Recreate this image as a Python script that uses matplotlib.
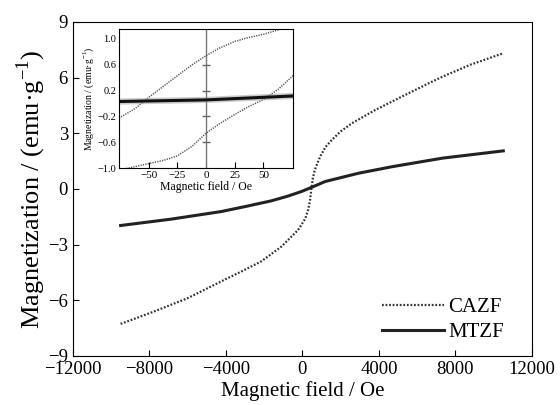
import numpy as np
import matplotlib
matplotlib.use("Agg")
import matplotlib.pyplot as plt

plt.rcParams['font.family'] = ['Liberation Serif', 'DejaVu Serif']
plt.rcParams['mathtext.fontset'] = 'custom'
plt.rcParams['mathtext.rm'] = 'Liberation Serif'

# main plot, full field sweep
cazf_h = [-9500, -7770, -6010, -4260, -3195, -2160, -1100, -225, 150, 300,
          400, 475, 550, 650, 925, 1200, 1540, 2000, 2590, 3820, 5210, 6620,
          7330, 8800, 10500]
cazf_m = [-7.27, -6.61, -5.89, -4.99, -4.45, -3.91, -3.11, -2.21, -1.6, -1.13,
          -0.6, 0.04, 0.6, 1.03, 1.74, 2.25, 2.64, 3.1, 3.54, 4.26, 4.98, 5.70,
          6.05, 6.70, 7.31]
mtzf_h = [-9500, -6880, -4250, -2900, -1620, -800, -50, 580, 1190, 2950,
          4700, 7330, 10500]
mtzf_m = [-1.97, -1.63, -1.22, -0.93, -0.64, -0.40, -0.14, 0.13, 0.40, 0.85,
          1.20, 1.66, 2.05]

# inset, low field loop
loop_up_h = [-76, -62, -50, -37, -25, -12, 0, 12, 25, 37, 50, 66, 76]
loop_up_m = [-0.225, -0.08, 0.095, 0.27, 0.43, 0.6, 0.74, 0.86, 0.96, 1.02,
             1.07, 1.155, 1.2]
loop_dn_h = [-76, -67.8, -60, -50, -37, -25, -12, 0, 12, 25, 37, 50, 63, 76]
loop_dn_m = [-1.03, -1.0, -0.97, -0.93, -0.88, -0.81, -0.66, -0.46, -0.31,
             -0.17, -0.05, 0.06, 0.22, 0.43]
mt_in_h = [-76, 0, 76]
mt_in_m = [0.03, 0.055, 0.116]

xticks = [-12000, -8000, -4000, 0, 4000, 8000, 12000]
yticks = [-9, -6, -3, 0, 3, 6, 9]
in_xticks = [-50, -25, 0, 25, 50]
in_yticks = [-1.0, -0.6, -0.2, 0.2, 0.6, 1.0]

fig = plt.figure(figsize=(5.6, 4.05), dpi=100)
ax = fig.add_axes([0.13, 0.121, 0.82, 0.825])

ax.plot(cazf_h, cazf_m, color='#333333', lw=1.6, linestyle=(0, (0.8, 0.8)),
        label='CAZF')
ax.plot(mtzf_h, mtzf_m, color='#222222', lw=2.2, label='MTZF')

ax.set_xlim(-12000, 12000)
ax.set_ylim(-9, 9)
ax.set_xticks(xticks)
ax.set_yticks(yticks)
ax.tick_params(direction='in', labelsize=13.5, length=4, top=False, right=False)
ax.set_xlabel('Magnetic field / Oe', fontsize=15, labelpad=2)
ax.set_ylabel('Magnetization / (emu·g$^{-1}$)', fontsize=19, labelpad=0)
ax.legend(loc='lower right', frameon=False, fontsize=15, handlelength=3.0,
          handletextpad=0.2, labelspacing=0.25, bbox_to_anchor=(0.98, -0.015))

# inset
axi = fig.add_axes([0.2125, 0.585, 0.311, 0.343])
axi.axvline(0, color='#777777', lw=1)
axi.plot([0] * len(in_yticks[1:-1]), in_yticks[1:-1], linestyle='none',
         marker='_', markersize=6, color='#666666')
axi.plot(loop_up_h, loop_up_m, color='#555555', lw=1.1, linestyle=(0, (0.8, 0.8)))
axi.plot(loop_dn_h, loop_dn_m, color='#555555', lw=1.1, linestyle=(0, (0.8, 0.8)))
axi.plot(mt_in_h, mt_in_m, color='#999999', lw=4.5, alpha=0.5)
axi.plot(mt_in_h, mt_in_m, color='#111111', lw=2.2)
axi.set_xlim(-76, 76)
axi.set_ylim(-1.0, 1.15)
axi.set_xticks(in_xticks)
axi.set_yticks(in_yticks)
axi.tick_params(axis='x', direction='in', labelsize=8, length=4, pad=2)
axi.tick_params(axis='y', direction='in', labelsize=7.5, length=0, pad=2)
axi.set_xlabel('Magnetic field / Oe', fontsize=8.5, labelpad=1)
axi.set_ylabel('Magnetization / (emu·g$^{-1}$)', fontsize=7, labelpad=1)

fig.savefig('out.png', dpi=100)
